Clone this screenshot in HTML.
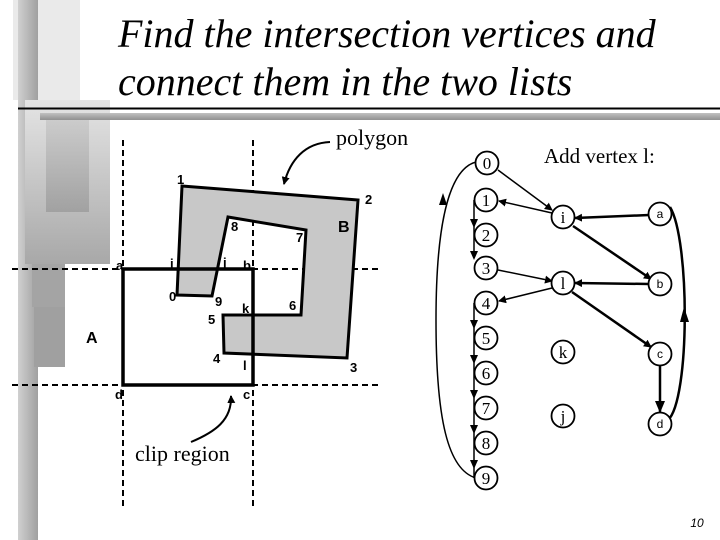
<!DOCTYPE html>
<html><head><meta charset="utf-8"><style>
body{margin:0;width:720px;height:540px;overflow:hidden;background:#fff;position:relative}
.t{position:absolute;left:118px;font-family:"Liberation Serif",serif;font-style:italic;font-size:40px;line-height:48px;color:#000;top:10px;white-space:nowrap}
</style></head><body>
<svg width="720" height="540" style="position:absolute;left:0;top:0">
<defs>
<linearGradient id="g1" x1="0" y1="0" x2="0" y2="1"><stop offset="0" stop-color="#e4e4e4"/><stop offset="1" stop-color="#a8a8a8"/></linearGradient>
<linearGradient id="g2" x1="0" y1="0" x2="1" y2="0"><stop offset="0" stop-color="#d0d0d0"/><stop offset="1" stop-color="#a0a0a0"/></linearGradient>
<linearGradient id="g3" x1="0" y1="0" x2="0" y2="1"><stop offset="0" stop-color="#c0c0c0"/><stop offset="1" stop-color="#909090"/></linearGradient>
<marker id="ah" markerWidth="8" markerHeight="8" refX="7" refY="4" orient="auto" markerUnits="userSpaceOnUse"><path d="M0,0 L8,4 L0,8 z"/></marker>
<marker id="ahb" markerWidth="12" markerHeight="10" refX="11" refY="5" orient="auto" markerUnits="userSpaceOnUse"><path d="M0,0 L12,5 L0,10 z"/></marker>
</defs>
<rect x="13" y="0" width="67" height="100" fill="#eaeaea"/>
<rect x="18" y="0" width="20" height="540" fill="url(#g2)"/>
<rect x="25" y="100" width="85" height="164" fill="url(#g1)"/>
<rect x="46" y="120" width="43" height="92" fill="url(#g3)" opacity="0.6"/>
<rect x="32" y="264" width="33" height="43" fill="#a4a4a4"/>
<rect x="34" y="307" width="31" height="60" fill="#a0a0a0"/>
<rect x="40" y="113" width="680" height="7" fill="url(#g3)"/>
<line x1="18" y1="108.5" x2="720" y2="108.5" stroke="#000" stroke-width="2"/>
<g stroke="#000" stroke-width="2" stroke-dasharray="6,4">
<line x1="123" y1="140" x2="123" y2="507"/>
<line x1="253" y1="140" x2="253" y2="507"/>
<line x1="12" y1="269" x2="380" y2="269"/>
<line x1="12" y1="385" x2="380" y2="385"/>
</g>
<polygon points="182,186 358,200 347,358 224,353 223,315 301,315 306,230 228,217 212,296 177,295" fill="#c8c8c8" stroke="#000" stroke-width="3"/>
<rect x="123" y="269" width="130" height="116" fill="none" stroke="#000" stroke-width="3.5"/>
<g font-family="Liberation Sans,sans-serif" font-weight="bold" font-size="13">
<text x="177" y="184">1</text><text x="365" y="204">2</text><text x="231" y="231">8</text><text x="296" y="242">7</text>
<text x="116" y="270">a</text><text x="170" y="268">i</text><text x="223" y="267">j</text><text x="243" y="270">b</text>
<text x="169" y="301">0</text><text x="215" y="306">9</text><text x="208" y="324">5</text><text x="242" y="313">k</text><text x="289" y="310">6</text>
<text x="213" y="363">4</text><text x="243" y="370">l</text><text x="350" y="372">3</text><text x="115" y="399">d</text><text x="243" y="399">c</text>
<text x="338" y="232" font-size="16">B</text><text x="86" y="343" font-size="16">A</text>
</g>
<g font-family="Liberation Serif,serif" font-size="22">
<text x="336" y="145">polygon</text>
<text x="135" y="461">clip region</text>
<text x="544" y="163" font-size="21">Add vertex l:</text>
</g>
<path d="M330,142 C305,143 290,160 284,184" fill="none" stroke="#000" stroke-width="2" marker-end="url(#ah)"/>
<path d="M191,442 C215,432 232,420 231,396" fill="none" stroke="#000" stroke-width="2" marker-end="url(#ah)"/>
<g stroke="#000" fill="none">
<path d="M476,162 C445,170 436,240 436,320 C436,420 448,470 476,478" stroke-width="1.5"/>
<line x1="498" y1="170" x2="552" y2="210" stroke-width="1.5" marker-end="url(#ah)"/>
<line x1="552" y1="213" x2="499" y2="201" stroke-width="1.5" marker-end="url(#ah)"/>
<line x1="649" y1="215" x2="575" y2="218" stroke-width="2.5" marker-end="url(#ah)"/>
<line x1="573" y1="226" x2="651" y2="279" stroke-width="2.5" marker-end="url(#ah)"/>
<line x1="498" y1="270" x2="552" y2="281" stroke-width="1.5" marker-end="url(#ah)"/>
<line x1="552" y1="288" x2="499" y2="301" stroke-width="1.5" marker-end="url(#ah)"/>
<line x1="649" y1="284" x2="575" y2="283" stroke-width="2.5" marker-end="url(#ah)"/>
<line x1="572" y1="292" x2="651" y2="347" stroke-width="2.5" marker-end="url(#ah)"/>
<line x1="660" y1="366" x2="660" y2="412" stroke-width="2.5" marker-end="url(#ahb)"/>
<path d="M668,420 C690,400 690,240 670,207" stroke-width="2.5"/>
<line x1="474" y1="200" x2="474" y2="258" stroke-width="1.5"/>
<line x1="474" y1="303" x2="474" y2="478" stroke-width="1.5"/>
</g>
<g fill="#000">
<path d="M443,193 L439,205 L447,205 z"/>
<path d="M684,307 L680,322 L689,322 z"/>
<path d="M470,219 L478,219 L474,228 z"/><path d="M470,251 L478,251 L474,260 z"/>
<path d="M470,320 L478,320 L474,329 z"/><path d="M470,355 L478,355 L474,364 z"/><path d="M470,390 L478,390 L474,399 z"/>
<path d="M470,425 L478,425 L474,434 z"/><path d="M470,460 L478,460 L474,469 z"/>
</g>
<g fill="#fff" stroke="#000" stroke-width="1.8">
<circle cx="487" cy="163" r="11.5"/><circle cx="486" cy="200" r="11.5"/><circle cx="486" cy="235" r="11.5"/><circle cx="486" cy="268" r="11.5"/>
<circle cx="486" cy="303" r="11.5"/><circle cx="486" cy="338" r="11.5"/><circle cx="486" cy="373" r="11.5"/><circle cx="486" cy="408" r="11.5"/>
<circle cx="486" cy="443" r="11.5"/><circle cx="486" cy="478" r="11.5"/>
<circle cx="563" cy="217" r="11.5"/><circle cx="563" cy="283" r="11.5"/><circle cx="563" cy="352" r="11.5"/><circle cx="563" cy="416" r="11.5"/>
<circle cx="660" cy="214" r="11.5"/><circle cx="660" cy="284" r="11.5"/><circle cx="660" cy="354" r="11.5"/><circle cx="660" cy="424" r="11.5"/>
</g>
<g font-family="Liberation Serif,serif" font-size="17" text-anchor="middle">
<text x="487" y="169">0</text><text x="486" y="206">1</text><text x="486" y="241">2</text><text x="486" y="274">3</text>
<text x="486" y="309">4</text><text x="486" y="344">5</text><text x="486" y="379">6</text><text x="486" y="414">7</text>
<text x="486" y="449">8</text><text x="486" y="484">9</text>
<text x="563" y="223">i</text><text x="563" y="289">l</text><text x="563" y="358">k</text><text x="563" y="422">j</text>
</g>
<g font-family="Liberation Sans,sans-serif" font-size="12" text-anchor="middle">
<text x="660" y="218">a</text><text x="660" y="288">b</text><text x="660" y="358">c</text><text x="660" y="428">d</text>
<text x="697" y="527" font-style="italic">10</text>
</g>
</svg>
<div class="t">Find the intersection vertices and<br>connect them in the two lists</div>
</body></html>
